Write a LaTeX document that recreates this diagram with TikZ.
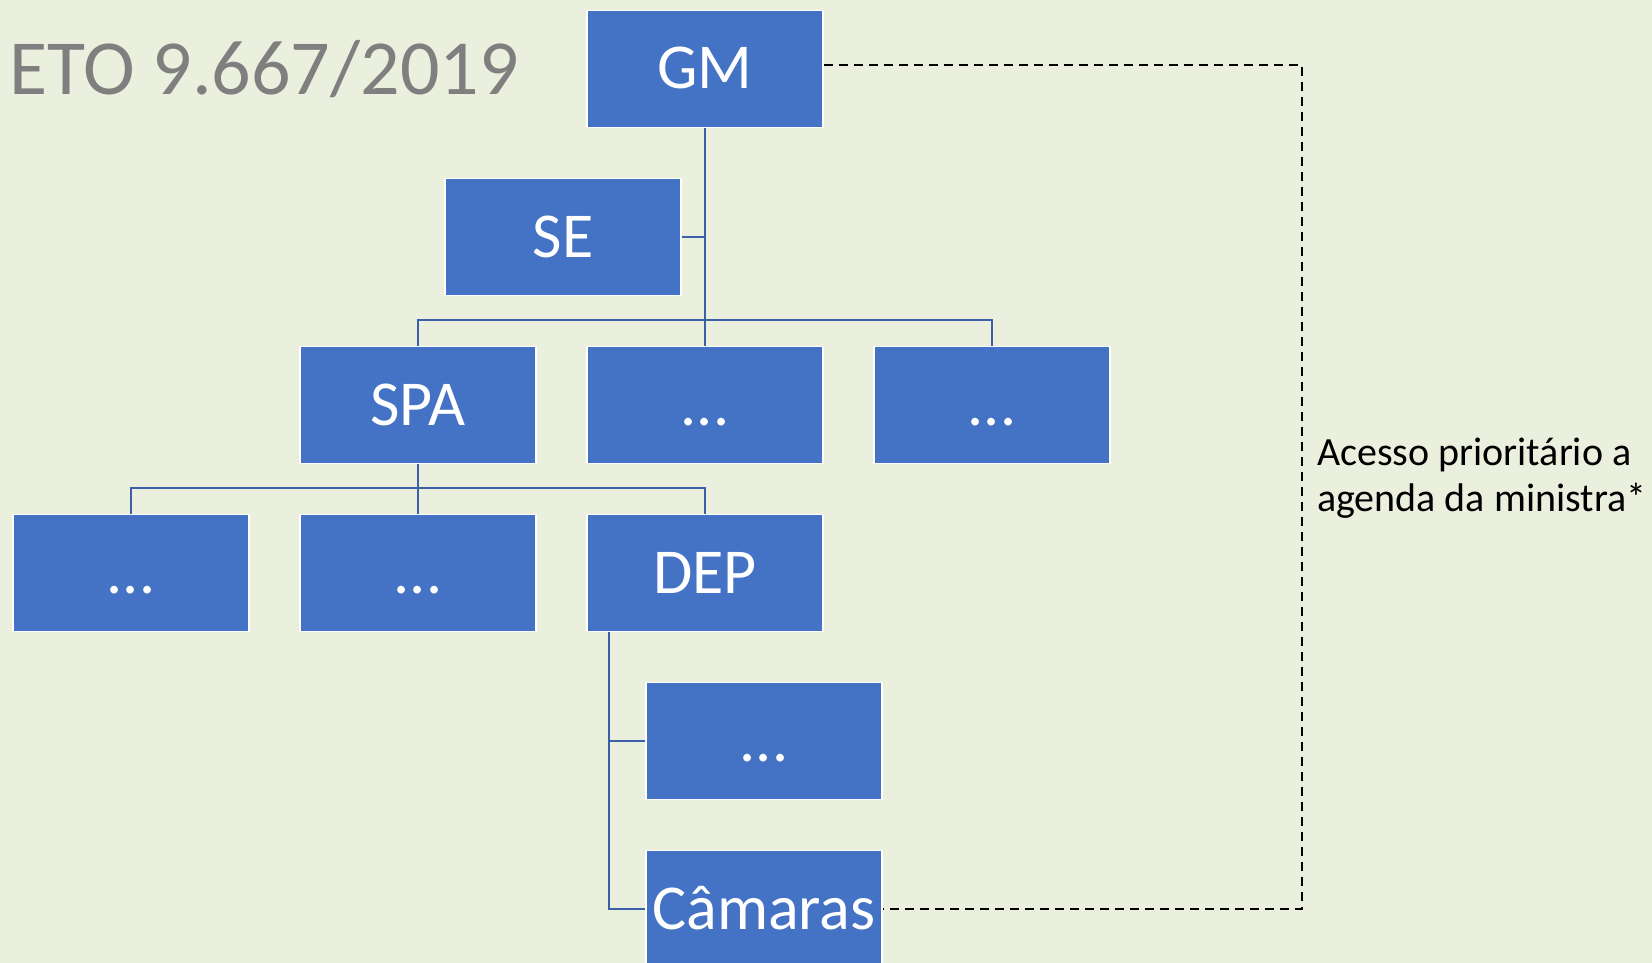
\documentclass[tikz,border=0pt]{standalone}
\usepackage{fontspec}
\setmainfont{Carlito}
\usepackage{xcolor}
\usetikzlibrary{positioning,calc}
\definecolor{bgcream}{RGB}{235,240,222}
\definecolor{boxblue}{RGB}{68,114,196}
\definecolor{linkblue}{RGB}{60,96,168}
\definecolor{titlegray}{RGB}{127,127,127}

\begin{document}
\begin{tikzpicture}[
    node distance=49.5pt and 49.5pt,
    box/.style={draw=white, line width=1.5pt, fill=boxblue, text=white, minimum width=236pt, minimum height=117pt, inner sep=0pt, text height=40pt, text depth=0pt, font=\fontsize{64}{77}\selectfont},
    link/.style={draw=linkblue, line width=2pt},
    dashlink/.style={draw=black, line width=2.5pt, dash pattern=on 9pt off 6pt},
    note/.style={align=left, inner sep=0pt, font=\fontsize{40}{46}\selectfont}
  ]
    \fill[bgcream] (0,0) rectangle (1652pt,-963pt);
    \useasboundingbox (0,0) rectangle (1652pt,-963pt);
    \node[anchor=base east, inner sep=0pt, text=titlegray, font=\fontsize{78}{94}\selectfont] (decreto) at (519pt,-95pt) {ETO 9.667/2019};
    \node[box] (gm) at (705pt,-69pt) {GM};
    \node[box, below=of gm, xshift=-142pt] (se) {SE};
    \node[box, below=of se, xshift=142pt] (mid) {...};
    \node[box, left=of mid] (spa) {SPA};
    \node[box, right=of mid] (rgt) {...};
    \node[box, below=of mid] (dep) {DEP};
    \node[box, left=of dep] (sub) {...};
    \node[box, left=of sub] (lft) {...};
    \node[box, below=of dep, xshift=59pt] (dsub) {...};
    \node[box, below=of dsub] (cam) {Câmaras};
    \node[note, anchor=west] (acesso) at (1317pt,-478pt) {Acesso prioritário a\\agenda da ministra*};
    \draw[link] (gm.south) -- (mid.north);
    \draw[link] (se.east) -- (se.east -| gm.south);
    \draw[link] (spa.north) -- ++(0,25.5pt) -| (rgt.north);
    \draw[link] (spa.south) -- (sub.north);
    \draw[link] (lft.north) -- ++(0,25.5pt) -| (dep.north);
    \coordinate (dv) at ($(dep.south west)+(23pt,0)$);
    \draw[link] (dv) |- (cam.west);
    \draw[link] (dsub.west) -- (dsub.west -| dv);
    \draw[dashlink] ($(gm.east)+(0,4pt)$) -- ++(478pt,0) |- (cam.east);
  \end{tikzpicture}
\end{document}
